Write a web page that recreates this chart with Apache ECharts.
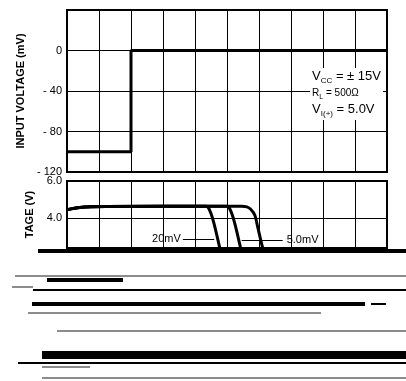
<!DOCTYPE html>
<html>
<head>
<meta charset="utf-8">
<script src="https://cdn.jsdelivr.net/npm/echarts@6/dist/echarts.min.js"></script>
<style>
html, body { margin: 0; padding: 0; background: #fff; }
#chart { width: 406px; height: 381px; }
</style>
</head>
<body>
<div id="chart"></div>
<script>
// input step (mV) vs time divisions
var inputStep = [[0, -100], [2, -100], [2, 0], [10, 0]];
var inputTicks = [0, -40, -80, -120];

// output voltage (V) for each overdrive
var out20mV = [[0, 4.46], [0.4, 4.58], [1.2, 4.63], [4.34, 4.65], [4.42, 4.56], [4.50, 4.25], [4.58, 3.8], [4.66, 3.25], [4.78, 2.35]];
var out10mV = [[0, 4.46], [0.4, 4.58], [1.2, 4.63], [4.99, 4.65], [5.07, 4.56], [5.15, 4.25], [5.23, 3.8], [5.31, 3.25], [5.43, 2.35]];
var out5mV = [[0, 4.46], [0.4, 4.58], [1.2, 4.63], [5.45, 4.65], [5.62, 4.61], [5.74, 4.48], [5.87, 4.16], [5.96, 3.52], [6.1, 2.5], [6.13, 2.35]];
var outputTicks = [4, 6];

// leader lines for the curve labels
var leader20 = [[3.62, 2.88], [4.6, 2.88]];
var leader5 = [[5.46, 2.83], [6.74, 2.83]];

// scan streaks below the plot: [from, to, row]
var heavyStreaks = [[38, 406, 251], [47, 123, 280], [32, 365, 304]];
var wideStreaks = [[42, 406, 355]];
var thinStreaks = [[33, 406, 289.5], [371, 386, 304], [18, 406, 363]];
var greyStreaks = [[15, 406, 276], [12, 33, 287], [28, 321, 313], [57, 406, 331], [42, 90, 367], [42, 406, 378]];

var myChart = echarts.init(document.getElementById('chart'));

function streakData(list) {
    return list.map(function (s) {
        return { coords: [[s[0], s[2]], [s[1], s[2]]] };
    });
}

function inList(list, v) {
    for (var i = 0; i < list.length; i++) {
        if (Math.abs(list[i] - v) < 1e-6) return true;
    }
    return false;
}

var timeAxis = {
    type: 'value',
    min: 0,
    max: 10,
    interval: 1,
    axisLabel: { show: false },
    axisTick: { show: false },
    axisLine: { show: false },
    splitLine: { lineStyle: { color: '#000', width: 1 } }
};

var curveStyle = { color: '#000', width: 3 };

var option = {
    animation: false,
    title: {
        text: '{v|V}{s|CC}{v| = ± 15V}\n{r|R}{rs|L}{re| = 500Ω}\n{v|V}{s|I(+)}{v| = 5.0V}',
        right: 23,
        top: 66,
        padding: [2, 2],
        backgroundColor: '#fff',
        textStyle: {
            align: 'right',
            fontWeight: 'normal',
            rich: {
                v: { fontSize: 13, color: '#000', fontWeight: 'normal', fontFamily: 'Liberation Sans', lineHeight: 17 },
                s: { fontSize: 8, color: '#000', fontWeight: 'normal', fontFamily: 'Liberation Sans', verticalAlign: 'bottom', lineHeight: 17 },
                r: { fontSize: 10, color: '#000', fontWeight: 'normal', fontFamily: 'Liberation Sans', lineHeight: 16 },
                re: { fontSize: 10, color: '#000', fontWeight: 'normal', fontFamily: 'Liberation Sans', lineHeight: 16, padding: [0, 3, 0, 0] },
                rs: { fontSize: 7, color: '#000', fontWeight: 'normal', fontFamily: 'Liberation Sans', verticalAlign: 'bottom', lineHeight: 16 }
            }
        }
    },
    grid: [
        { left: 67, right: 19, top: 10, height: 162, show: true, borderColor: '#000', borderWidth: 2 },
        { left: 67, right: 19, top: 181, height: 67, show: true, borderColor: '#000', borderWidth: 2 },
        { left: 0, right: 0, top: 240, bottom: 0 }
    ],
    xAxis: [
        Object.assign({ gridIndex: 0 }, timeAxis),
        Object.assign({ gridIndex: 1 }, timeAxis),
        { gridIndex: 2, type: 'value', min: 0, max: 406, show: false }
    ],
    yAxis: [
        {
            gridIndex: 0,
            type: 'value',
            min: -120,
            max: 40,
            interval: 40,
            name: 'INPUT VOLTAGE (mV)',
            nameLocation: 'middle',
            nameGap: 31,
            nameTextStyle: { fontWeight: 'bold', fontSize: 11, color: '#000', fontFamily: 'Liberation Sans' },
            axisLabel: {
                color: '#000',
                fontSize: 11,
                margin: 5,
                fontFamily: 'Liberation Sans',
                formatter: function (v) {
                    if (!inList(inputTicks, v)) return '';
                    return v < 0 ? '- ' + Math.abs(v) : String(v);
                }
            },
            axisTick: { show: false },
            axisLine: { show: false },
            splitLine: { lineStyle: { color: '#000', width: 1 } }
        },
        {
            gridIndex: 1,
            type: 'value',
            min: 2.4,
            max: 6,
            interval: 0.4,
            name: 'TAGE (V)',
            nameLocation: 'middle',
            nameGap: 31,
            nameTextStyle: { fontWeight: 'bold', fontSize: 11, color: '#000', fontFamily: 'Liberation Sans' },
            axisLabel: {
                color: '#000',
                fontSize: 11,
                margin: 5,
                fontFamily: 'Liberation Sans',
                formatter: function (v) {
                    return inList(outputTicks, v) ? v.toFixed(1) : '';
                }
            },
            axisTick: { show: false },
            axisLine: { show: false },
            splitLine: { show: false }
        },
        { gridIndex: 2, type: 'value', min: 240, max: 381, inverse: true, show: false }
    ],
    series: [
        {
            name: 'input',
            type: 'line',
            xAxisIndex: 0,
            yAxisIndex: 0,
            data: inputStep,
            showSymbol: false,
            lineStyle: curveStyle
        },
        {
            name: '20mV',
            type: 'line',
            xAxisIndex: 1,
            yAxisIndex: 1,
            data: out20mV,
            showSymbol: false,
            smooth: 0.3,
            lineStyle: curveStyle,
            markLine: {
                silent: true,
                symbol: 'none',
                lineStyle: { color: '#000', width: 1, type: 'solid' },
                label: { show: false },
                data: [
                    { yAxis: 4 },
                    [
                        { coord: leader20[0], label: { show: true, position: 'start', formatter: '20mV', color: '#000', fontSize: 11, distance: 2 } },
                        { coord: leader20[1] }
                    ]
                ]
            }
        },
        {
            name: '10mV',
            type: 'line',
            xAxisIndex: 1,
            yAxisIndex: 1,
            data: out10mV,
            showSymbol: false,
            smooth: 0.3,
            lineStyle: curveStyle
        },
        {
            name: '5.0mV',
            type: 'line',
            xAxisIndex: 1,
            yAxisIndex: 1,
            data: out5mV,
            showSymbol: false,
            smooth: 0.3,
            lineStyle: curveStyle,
            markLine: {
                silent: true,
                symbol: 'none',
                lineStyle: { color: '#000', width: 1, type: 'solid' },
                label: { show: false },
                data: [
                    [
                        { coord: leader5[0] },
                        { coord: leader5[1], label: { show: true, position: 'end', formatter: '5.0mV', color: '#000', fontSize: 11, distance: 4 } }
                    ]
                ]
            }
        },
        {
            type: 'lines', coordinateSystem: 'cartesian2d', xAxisIndex: 2, yAxisIndex: 2, silent: true,
            data: streakData(heavyStreaks), lineStyle: { color: '#000', width: 4, opacity: 1 }
        },
        {
            type: 'lines', coordinateSystem: 'cartesian2d', xAxisIndex: 2, yAxisIndex: 2, silent: true,
            data: streakData(wideStreaks), lineStyle: { color: '#000', width: 8, opacity: 1 }
        },
        {
            type: 'lines', coordinateSystem: 'cartesian2d', xAxisIndex: 2, yAxisIndex: 2, silent: true,
            data: streakData(thinStreaks), lineStyle: { color: '#000', width: 2, opacity: 1 }
        },
        {
            type: 'lines', coordinateSystem: 'cartesian2d', xAxisIndex: 2, yAxisIndex: 2, silent: true,
            data: streakData(greyStreaks), lineStyle: { color: '#666', width: 1.5, opacity: 1 }
        }
    ]
};

myChart.setOption(option);
</script>
</body>
</html>
